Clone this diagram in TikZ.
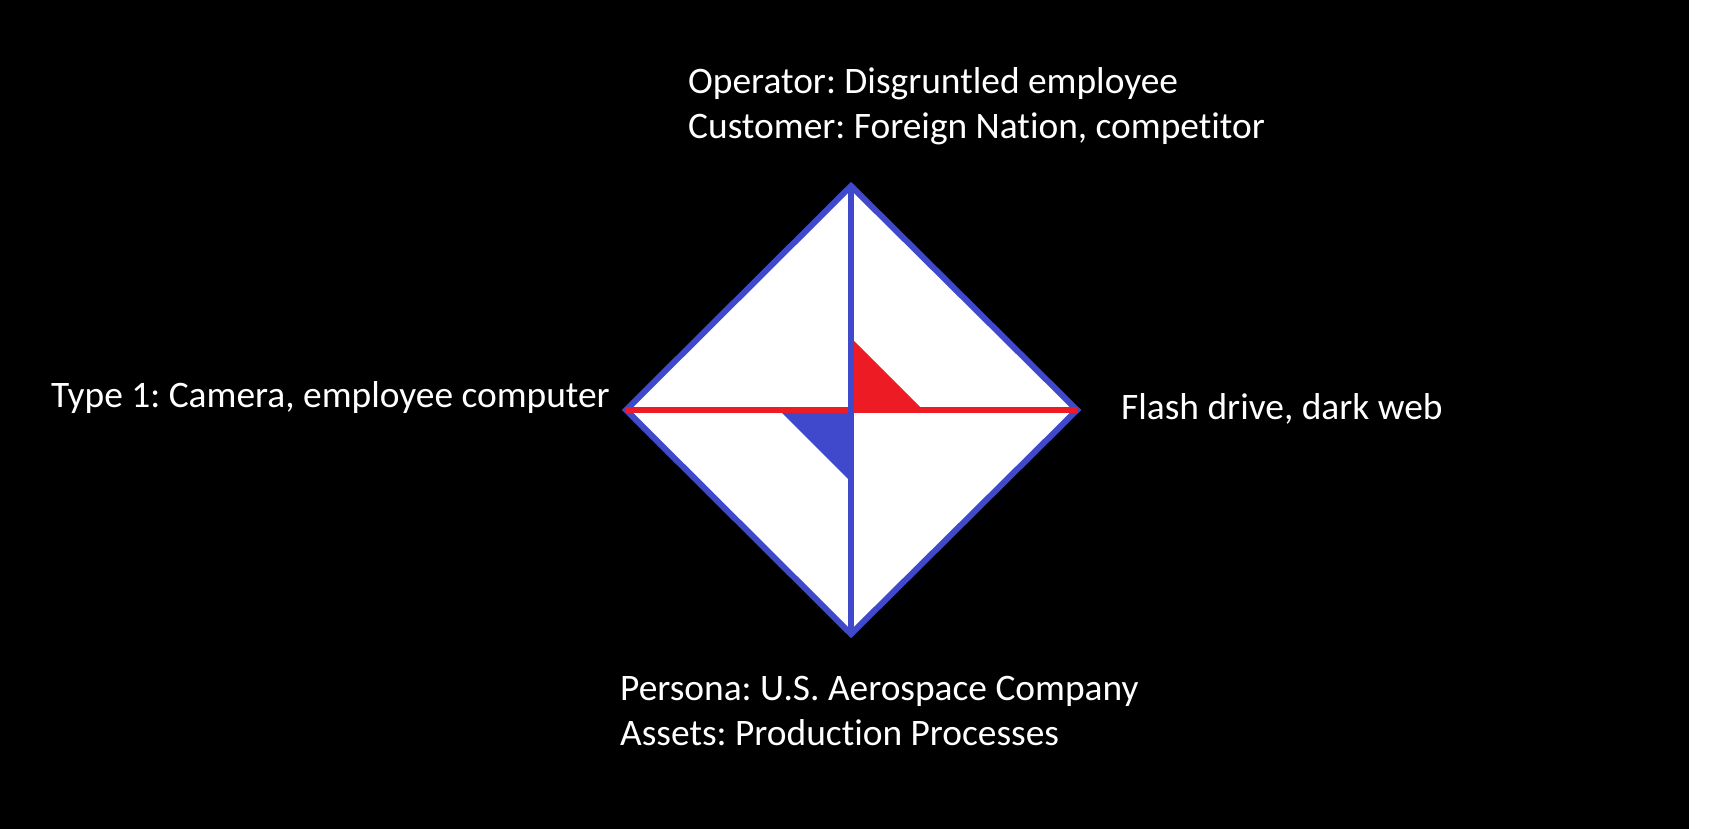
\documentclass[tikz,border=0pt]{standalone}
\usepackage{fontspec}
\setmainfont[Ligatures=NoCommon]{Carlito}
\frenchspacing
\definecolor{edgeblue}{RGB}{64,72,204}
\definecolor{axisred}{RGB}{237,28,36}
\begin{document}
\begin{tikzpicture}[x=1pt,y=-1pt,
  lbl/.style={text=white,font=\fontsize{37.4}{45}\selectfont,inner sep=0pt,align=left,anchor=base west},
  rim/.style={draw=edgeblue,line width=6pt,line join=miter},
  axisline/.style={line width=6pt}]
\useasboundingbox (0,0) rectangle (1721,829);
% page: black panel with a thin white strip on the right
\fill[white] (0,0) rectangle (1721,829);
\fill[black] (0,0) rectangle (1689,829);

% diamond corners and centre
\coordinate (T) at (851,186);
\coordinate (R) at (1077,410);
\coordinate (B) at (851,634);
\coordinate (L) at (626,410);
\coordinate (C) at (851,410);

% diamond body
\fill[white] (T) -- (R) -- (B) -- (L) -- cycle;
% small corner wedges at the centre
\fill[axisred] (C) -- (851,338) -- (923,410) -- cycle;
\fill[edgeblue] (C) -- (779,410) -- (851,482) -- cycle;
% outline and axes
\draw[rim] (T) -- (R) -- (B) -- (L) -- cycle;
\draw[axisline,axisred] (L) -- (R);
\draw[axisline,edgeblue] (T) -- (B);

% labels around the diamond (two-line labels are placed by their last baseline)
\node[lbl] (adversary) at (688,139) {Operator: Disgruntled employee\\Customer: Foreign Nation, competitor};
\node[lbl] (capability) at (51,407) {Type 1: Camera, employee computer};
\node[lbl] (infrastructure) at (1121,419) {Flash drive, dark web};
\node[lbl] (victim) at (620,745) {Persona: U.S. Aerospace Company\\Assets: Production Processes};
\end{tikzpicture}
\end{document}
